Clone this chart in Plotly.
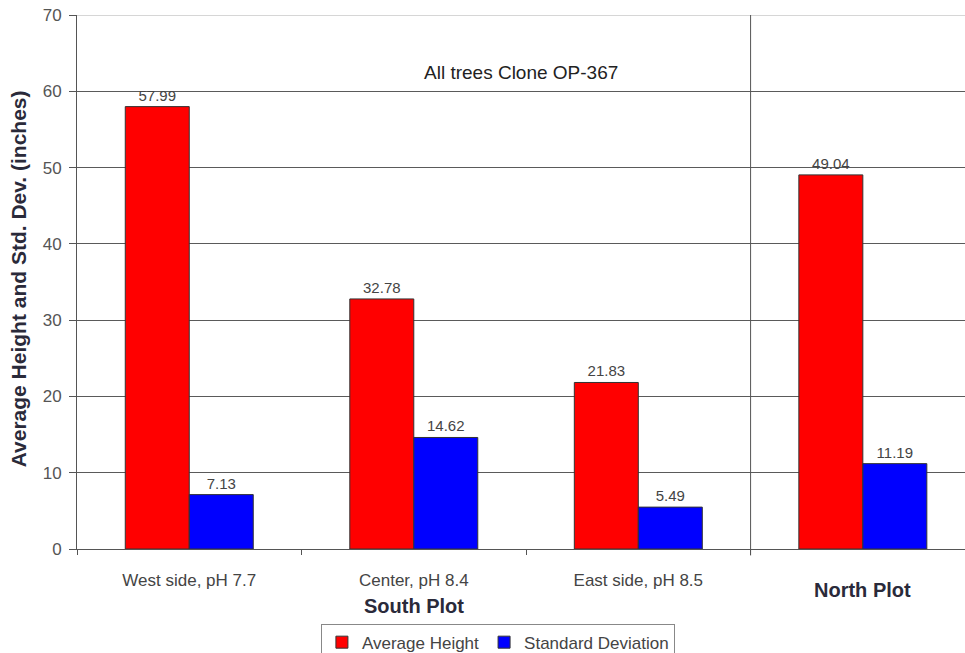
import plotly.graph_objects as go

# Tree height survey, clone OP-367
categories = ["West side, pH 7.7", "Center, pH 8.4", "East side, pH 8.5", "North Plot"]
tick_labels = ["West side, pH 7.7", "Center, pH 8.4", "East side, pH 8.5", ""]
avg_height = [57.99, 32.78, 21.83, 49.04]
std_dev = [7.13, 14.62, 5.49, 11.19]
y_ticks = [0, 10, 20, 30, 40, 50, 60, 70]

FONT = "Liberation Sans, Arial, sans-serif"

fig = go.Figure()
fig.add_trace(go.Bar(
    x=categories, y=avg_height, name="Average Height",
    marker=dict(color="#ff0000", line=dict(color="#333333", width=1)),
    text=[f"{v:.2f}" for v in avg_height], textposition="outside",
    textfont=dict(family=FONT, size=15, color="#444444"), cliponaxis=False,
))
fig.add_trace(go.Bar(
    x=categories, y=std_dev, name="Standard Deviation",
    marker=dict(color="#0000ff", line=dict(color="#333333", width=1)),
    text=[f"{v:.2f}" for v in std_dev], textposition="outside",
    textfont=dict(family=FONT, size=15, color="#444444"), cliponaxis=False,
))

fig.update_layout(
    width=965, height=653,
    margin=dict(l=77, r=0, t=15, b=104, autoexpand=False),
    plot_bgcolor="white", paper_bgcolor="white",
    font=dict(family=FONT, color="#333333"),
    barmode="group", bargap=0.43, bargroupgap=0,
    showlegend=True,
    legend=dict(
        orientation="h", x=0.474, xanchor="center",
        yref="container", y=0.045, yanchor="top",
        bordercolor="#888888", borderwidth=1, bgcolor="white",
        font=dict(family=FONT, size=17, color="#444444"),
        itemwidth=30,
    ),
    xaxis=dict(
        type="category", range=[-0.5, 3.455],
        tickvals=categories, ticktext=tick_labels,
        tickson="boundaries", ticks="outside", ticklen=5, tickcolor="#555555",
        showgrid=False, showline=True, linecolor="#555555", linewidth=1,
        tickfont=dict(family=FONT, size=17, color="#444444"),
        ticklabelstandoff=16, automargin=False,
    ),
    yaxis=dict(
        range=[0, 70], tickvals=y_ticks,
        ticks="outside", ticklen=7, tickcolor="#555555",
        showgrid=True, gridcolor="#5a5a5a", gridwidth=1,
        zeroline=False, showline=True, linecolor="#555555", linewidth=1,
        tickfont=dict(family=FONT, size=17, color="#555555"),
        ticklabelstandoff=4, automargin=False,
    ),
    shapes=[
        # lighter top border at 70
        dict(type="line", xref="paper", yref="y", x0=0, x1=1, y0=70, y1=70,
             line=dict(color="#c8c8c8", width=1.5)),
        # separator between South Plot and North Plot
        dict(type="line", xref="x", yref="paper", x0=2.5, x1=2.5, y0=-0.012, y1=1,
             line=dict(color="#555555", width=1)),
    ],
    annotations=[
        dict(text="All trees Clone OP-367", xref="paper", yref="paper",
             x=0.5, y=0.893, xanchor="center", yanchor="middle", showarrow=False,
             font=dict(family=FONT, size=19, color="#222222")),
        dict(text="<b>Average Height and Std. Dev. (inches)</b>", xref="paper", yref="paper",
             x=-0.0664, y=0.505, xanchor="center", yanchor="middle", textangle=-90,
             showarrow=False, font=dict(family=FONT, size=21, color="#2a2a3a")),
        dict(text="<b>South Plot</b>", xref="x", yref="paper",
             x=categories[1], y=-0.106, xanchor="center", yanchor="middle",
             showarrow=False, font=dict(family=FONT, size=20, color="#2a2a3a")),
        dict(text="<b>North Plot</b>", xref="x", yref="paper",
             x=categories[3], y=-0.077, xanchor="center", yanchor="middle",
             showarrow=False, font=dict(family=FONT, size=20, color="#2a2a3a")),
    ],
)

fig.write_html("out.html")
